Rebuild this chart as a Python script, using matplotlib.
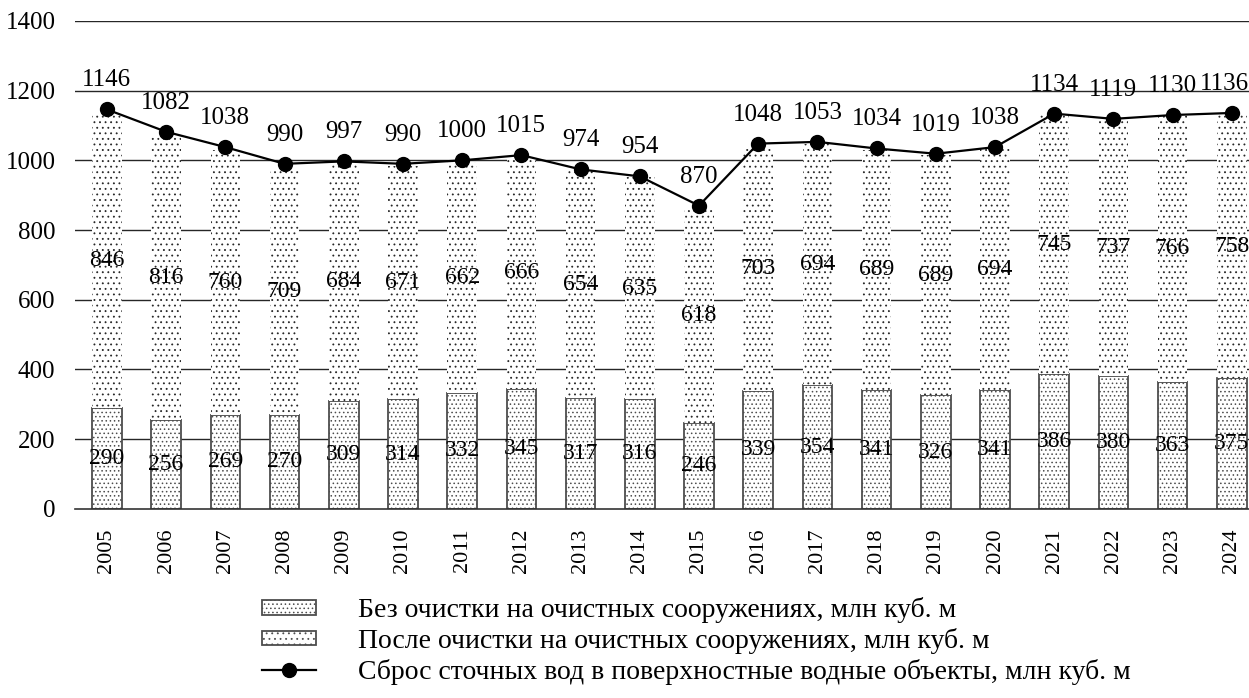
import matplotlib.pyplot as plt
import matplotlib
import numpy as np
from matplotlib.patches import Patch
from matplotlib.lines import Line2D

matplotlib.rcParams['font.family'] = ['Liberation Serif', 'DejaVu Serif']
matplotlib.rcParams['hatch.linewidth'] = 0.6

years = ['2005', '2006', '2007', '2008', '2009', '2010', '2011', '2012', '2013', '2014',
         '2015', '2016', '2017', '2018', '2019', '2020', '2021', '2022', '2023', '2024']
bez_ochistki = [290, 256, 269, 270, 309, 314, 332, 345, 317, 316,
                246, 339, 354, 341, 326, 341, 386, 380, 363, 375]
posle_ochistki = [846, 816, 760, 709, 684, 671, 662, 666, 654, 635,
                  618, 703, 694, 689, 689, 694, 745, 737, 766, 758]
sbros = [1146, 1082, 1038, 990, 997, 990, 1000, 1015, 974, 954,
         870, 1048, 1053, 1034, 1019, 1038, 1134, 1119, 1130, 1136]

labels = ['Без очистки на очистных сооружениях, млн куб. м',
          'После очистки на очистных сооружениях, млн куб. м',
          'Сброс сточных вод в поверхностные водные объекты, млн куб. м']

x = np.arange(len(years))
bez = np.array(bez_ochistki)
posle = np.array(posle_ochistki)

fig = plt.figure(figsize=(12.49, 6.98), dpi=100)
ax = fig.add_axes([0.06, 0.271, 0.94, 0.699])

# сетка
for v in range(200, 1401, 200):
    ax.axhline(v, color='0.15', lw=1.0, zorder=0)

w = 0.5
ax.bar(x, bez, w, color='white', edgecolor='0.3', linewidth=1.3, hatch='....', zorder=2)
ax.bar(x, posle, w, bottom=bez, color='white', edgecolor='0.15', linewidth=0, hatch='...', zorder=2)
ax.plot(x, sbros, color='black', lw=1.6, marker='o', markersize=10, zorder=4)

fs = 17
for i in range(len(x)):
    ax.text(x[i], bez[i] / 2, str(bez[i]), ha='center', va='center', fontsize=fs, zorder=5)
    ax.text(x[i], bez[i] + posle[i] / 2, str(posle[i]), ha='center', va='center', fontsize=fs, zorder=5)
    dx = -5 if i == len(x) - 1 else 0
    ax.annotate(str(sbros[i]), (x[i], sbros[i]), xytext=(dx, 13), textcoords='offset points',
                ha='center', va='bottom', fontsize=18, zorder=5)

ax.set_xlim(-0.54, len(x) - 1 + 0.29)
ax.set_ylim(0, 1400)
ax.set_yticks(range(0, 1401, 200))
ax.set_xticks(x)
ax.set_xticklabels(years, rotation=90, fontsize=16)
ax.tick_params(axis='y', length=0, pad=14, labelsize=18)
ax.tick_params(axis='x', length=0, pad=14)
for s in ['top', 'right', 'left']:
    ax.spines[s].set_visible(False)
ax.spines['bottom'].set_color('0.2')
ax.spines['bottom'].set_linewidth(1.2)

handles = [Patch(facecolor='white', edgecolor='0.3', linewidth=1.3, hatch='....'),
           Patch(facecolor='white', edgecolor='0.3', linewidth=1.3, hatch='...'),
           Line2D([], [], color='black', lw=1.6, marker='o', markersize=10)]
fig.legend(handles, labels, loc='upper left', bbox_to_anchor=(0.21, 0.144),
           frameon=False, fontsize=20, handlelength=1.95, handleheight=0.42,
           handletextpad=1.5, labelspacing=0.17, borderpad=0, borderaxespad=0)

fig.savefig('out.png', dpi=100)
